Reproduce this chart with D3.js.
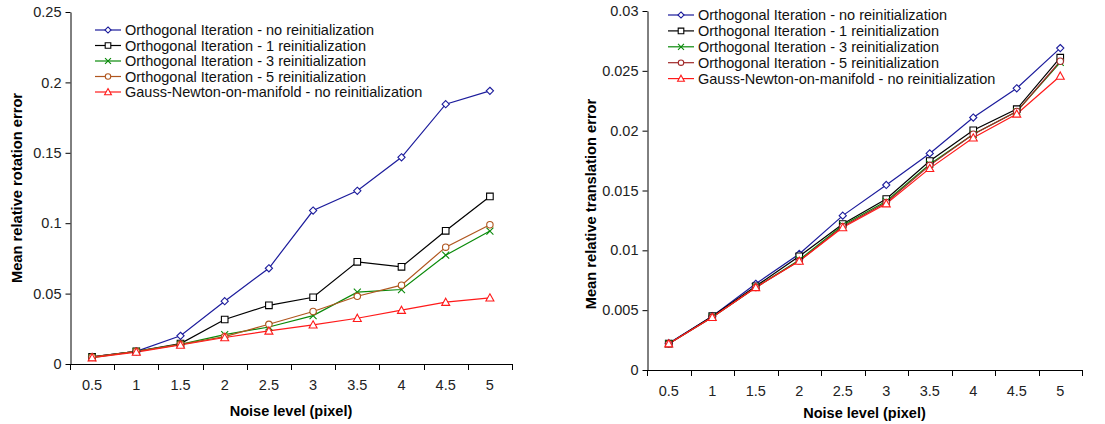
<!DOCTYPE html>
<html>
<head>
<meta charset="utf-8">
<script src="https://cdn.jsdelivr.net/npm/d3@7"></script>
<style>
  body { margin: 0; background: #fff; }
  svg { display: block; font-family: "Liberation Sans", Arial, sans-serif; }
</style>
</head>
<body>
<div id="chart"></div>
<script>
// shared categories
const noiseLevels = ["0.5", "1", "1.5", "2", "2.5", "3", "3.5", "4", "4.5", "5"];

const seriesNames = [
  "Orthogonal Iteration - no reinitialization",
  "Orthogonal Iteration - 1 reinitialization",
  "Orthogonal Iteration - 3 reinitialization",
  "Orthogonal Iteration - 5 reinitialization",
  "Gauss-Newton-on-manifold - no reinitialization"
];

// rotation error (left chart)
const rotNoReinit = [0.005, 0.009, 0.020, 0.0446, 0.068, 0.109, 0.123, 0.1468, 0.1845, 0.194];
const rot1Reinit  = [0.005, 0.009, 0.0145, 0.0316, 0.0417, 0.0474, 0.0726, 0.069, 0.0946, 0.119];
const rot3Reinit  = [0.0045, 0.009, 0.014, 0.0209, 0.0263, 0.0344, 0.051, 0.0529, 0.0773, 0.0944];
const rot5Reinit  = [0.005, 0.009, 0.014, 0.0195, 0.0282, 0.0373, 0.0481, 0.056, 0.083, 0.0989];
const rotGN       = [0.0045, 0.0085, 0.0135, 0.0188, 0.0235, 0.0278, 0.0325, 0.0382, 0.0439, 0.047];
const rotTicks = [0, 0.05, 0.1, 0.15, 0.2, 0.25];

// translation error (right chart)
const trNoReinit = [0.00223, 0.0045, 0.0072, 0.0097, 0.0129, 0.01546, 0.0181, 0.0211, 0.02354, 0.0269];
const tr1Reinit  = [0.0022, 0.0045, 0.0070, 0.0095, 0.0122, 0.01429, 0.01746, 0.02003, 0.0218, 0.0261];
const tr3Reinit  = [0.0022, 0.0044, 0.0069, 0.0092, 0.0121, 0.0141, 0.0172, 0.0197, 0.0216, 0.0257];
const tr5Reinit  = [0.0022, 0.0044, 0.0069, 0.0091, 0.0120, 0.0140, 0.0171, 0.0197, 0.0216, 0.0258];
const trGN       = [0.0022, 0.0044, 0.0069, 0.0091, 0.0119, 0.0139, 0.01685, 0.0194, 0.0214, 0.02457];
const trTicks = [0, 0.005, 0.01, 0.015, 0.02, 0.025, 0.03];

const width = 1105, height = 424;

const svg = d3.select("#chart").append("svg")
  .attr("width", width)
  .attr("height", height);

function drawChart(opts) {
  const x = d3.scalePoint()
    .domain(noiseLevels)
    .range([opts.x0, opts.x1])
    .padding(0.5);
  const y = d3.scaleLinear()
    .domain([0, opts.yMax])
    .range([opts.y0, opts.y1]);

  const g = svg.append("g");

  // x axis: excel style ticks between categories
  const step = (opts.x1 - opts.x0) / noiseLevels.length;
  const bounds = d3.range(noiseLevels.length + 1).map(i => opts.x0 + i * step);
  g.append("line")
    .attr("x1", opts.x0).attr("x2", opts.x1)
    .attr("y1", opts.y0 + 0.5).attr("y2", opts.y0 + 0.5)
    .attr("stroke", "#000");
  g.append("g").selectAll("line")
    .data(bounds)
    .join("line")
      .attr("x1", d => Math.round(d) + 0.5).attr("x2", d => Math.round(d) + 0.5)
      .attr("y1", opts.y0).attr("y2", opts.y0 + 6)
      .attr("stroke", "#000");
  g.append("g").selectAll("text")
    .data(noiseLevels)
    .join("text")
      .attr("x", d => x(d))
      .attr("y", opts.y0 + 26)
      .attr("text-anchor", "middle")
      .attr("font-size", 14.5)
      .attr("fill", "#222")
      .text(d => d);

  // y axis
  const yAxis = d3.axisLeft(y)
    .tickValues(opts.ticks)
    .tickSize(5)
    .tickSizeOuter(0)
    .tickPadding(4)
    .tickFormat(d => String(d));
  g.append("g")
    .attr("transform", `translate(${opts.x0 + 0.5}, 0)`)
    .call(yAxis)
    .call(a => a.select(".domain").attr("stroke", "#000"))
    .call(a => a.selectAll("text")
      .attr("font-size", 14.5)
      .attr("font-family", "Liberation Sans, Arial, sans-serif")
      .attr("fill", "#222"));

  // axis titles
  g.append("text")
    .attr("x", (opts.x0 + opts.x1) / 2)
    .attr("y", opts.xTitleY)
    .attr("text-anchor", "middle")
    .attr("font-size", 14.5)
    .attr("font-weight", "bold")
    .text("Noise level (pixel)");
  g.append("text")
    .attr("transform", `translate(${opts.yTitleX}, ${opts.yTitleCY}) rotate(-90)`)
    .attr("text-anchor", "middle")
    .attr("font-size", 14.7)
    .attr("font-weight", "bold")
    .text(opts.yTitle);

  const line = d3.line()
    .x((d, i) => x(noiseLevels[i]))
    .y(d => y(d));

  opts.series.forEach((s, k) => {
    g.append("path")
      .datum(s.values)
      .attr("fill", "none")
      .attr("stroke", s.color)
      .attr("stroke-width", 1.2)
      .attr("d", line);
  });
  opts.series.forEach((s, k) => {
    g.append("g").selectAll("path")
      .data(s.values)
      .join("path")
        .attr("transform", (d, i) => `translate(${x(noiseLevels[i])}, ${y(d)})`)
        .attr("d", markerPath(s.marker))
        .attr("fill", s.marker === "cross" ? "none" : "#fff")
        .attr("stroke", s.color)
        .attr("stroke-width", 1.1);
  });

  // legend
  const leg = g.append("g");
  opts.series.forEach((s, k) => {
    const ly = opts.legY + k * opts.legStep;
    leg.append("line")
      .attr("x1", opts.legX).attr("x2", opts.legX + 26)
      .attr("y1", ly).attr("y2", ly)
      .attr("stroke", s.color)
      .attr("stroke-width", 1.2);
    leg.append("path")
      .attr("transform", `translate(${opts.legX + 13}, ${ly})`)
      .attr("d", markerPath(s.marker, 0.85))
      .attr("fill", s.marker === "cross" ? "none" : "#fff")
      .attr("stroke", s.color)
      .attr("stroke-width", 1.1);
    leg.append("text")
      .attr("x", opts.legX + 30)
      .attr("y", ly)
      .attr("dy", "0.35em")
      .attr("font-size", 14.5)
      .attr("fill", "#111")
      .text(seriesNames[k]);
  });
}

function markerPath(type, scale = 1) {
  const r = 3.6 * scale;
  const p = d3.path();
  if (type === "diamond") {
    p.moveTo(0, -r); p.lineTo(r, 0); p.lineTo(0, r); p.lineTo(-r, 0); p.closePath();
  } else if (type === "square") {
    const h = 3.3 * scale;
    p.rect(-h, -h, 2 * h, 2 * h);
  } else if (type === "cross") {
    const h = 3.5 * scale;
    p.moveTo(-h, -h); p.lineTo(h, h); p.moveTo(-h, h); p.lineTo(h, -h);
  } else if (type === "circle") {
    p.arc(0, 0, 3.2 * scale, 0, 2 * Math.PI);
  } else if (type === "triangle") {
    const h = 4 * scale;
    p.moveTo(0, -h); p.lineTo(h, h * 0.8); p.lineTo(-h, h * 0.8); p.closePath();
  }
  return p.toString();
}

drawChart({
  x0: 70, x1: 512, y0: 364, y1: 12, yMax: 0.25,
  ticks: rotTicks,
  xTitleY: 416, yTitleX: 22, yTitleCY: 188,
  yTitle: "Mean relative rotation error",
  legX: 95, legY: 30, legStep: 15.5,
  series: [
    {values: rotNoReinit, color: "#1c1c9c", marker: "diamond"},
    {values: rot1Reinit, color: "#000000", marker: "square"},
    {values: rot3Reinit, color: "#0a8a0a", marker: "cross"},
    {values: rot5Reinit, color: "#b0561e", marker: "circle"},
    {values: rotGN, color: "#ff1a1a", marker: "triangle"}
  ]
});

drawChart({
  x0: 647, x1: 1082, y0: 370, y1: 11, yMax: 0.03,
  ticks: trTicks,
  xTitleY: 418, yTitleX: 596, yTitleCY: 204,
  yTitle: "Mean relative translation error",
  legX: 668, legY: 15, legStep: 15.9,
  series: [
    {values: trNoReinit, color: "#1c1c9c", marker: "diamond"},
    {values: tr1Reinit, color: "#000000", marker: "square"},
    {values: tr3Reinit, color: "#0a8a0a", marker: "cross"},
    {values: tr5Reinit, color: "#a02828", marker: "circle"},
    {values: trGN, color: "#ff1a1a", marker: "triangle"}
  ]
});
</script>
</body>
</html>
